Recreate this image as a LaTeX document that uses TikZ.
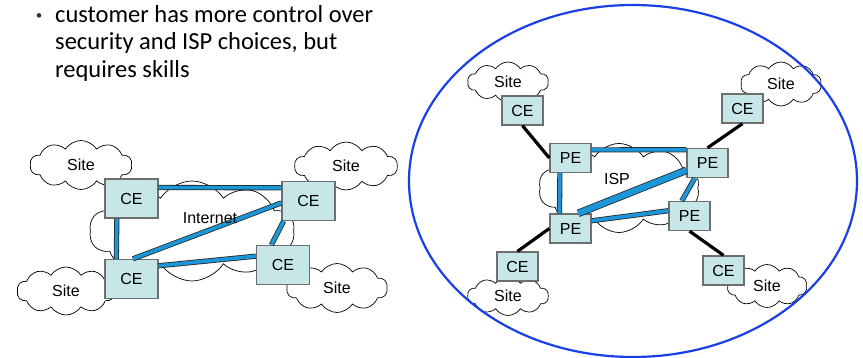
\documentclass[tikz,border=0pt]{standalone}
\usepackage{fontspec}
\setmainfont{Carlito}
\newfontfamily\diagfont{Liberation Sans}
\usetikzlibrary{shapes.symbols}

\definecolor{boxfill}{HTML}{C6E6E8}
\definecolor{boxline}{HTML}{6E6E6E}
\definecolor{linkblue}{HTML}{1B96D8}
\definecolor{ringblue}{HTML}{1A3FE6}

\begin{document}
\begin{tikzpicture}[x=1pt, y=-1pt,
    router/.style={rectangle, draw=boxline, fill=boxfill, line width=1.3pt, inner sep=0pt, minimum width=53pt, minimum height=39pt, font=\diagfont\fontsize{16}{18}\selectfont},
    edge/.style={rectangle, draw=boxline, fill=boxfill, line width=1.3pt, inner sep=0pt, minimum width=41pt, minimum height=29pt, font=\diagfont\fontsize{16}{18}\selectfont},
    site/.style 2 args={cloud, cloud puffs=10, cloud puff arc=115, cloud ignores aspect, draw=black, fill=white, line width=0.7pt, inner sep=0pt, minimum width=#1, minimum height=#2, font=\diagfont\fontsize{16}{18}\selectfont},
    lbl/.style={font=\diagfont\fontsize{16}{18}\selectfont, inner sep=0pt},
    link/.style={draw=black!85, line width=0.8pt, double=linkblue, double distance=#1},
    link/.default=3.6pt,
    access/.style={black, line width=3.2pt}
]
\useasboundingbox (0,0) rectangle (863,358);

% Bullet point
\node[font=\fontsize{13}{13}\selectfont, text=black!80, inner sep=0pt] (dot) at (39,17) {\textbullet};
\node[anchor=north west, inner sep=0pt, align=left, font=\fontsize{24.5}{27.5}\selectfont] (note) at (55,5)
    {customer has more control over\\security and ISP choices, but\\requires skills};

% Left: sites meshed over the Internet
\node[site={205pt}{100pt}] (inet) at (192,231) {};
\node[site={102pt}{49pt}] (siteA) at (81,165) {Site};
\node[site={103pt}{48pt}] (siteB) at (346,166) {Site};
\node[site={98pt}{48pt}] (siteC) at (66,291) {Site};
\node[site={101pt}{49pt}] (siteD) at (337,288) {Site};

\node[router] (ceA) at (131.5,198.5) {CE};
\node[router] (ceB) at (308.5,201) {CE};
\node[router] (ceC) at (131.5,279) {CE};
\node[router] (ceD) at (283,265) {CE};

\draw[link] (ceA.22) -- (ceB.154);
\draw[link] (ceA.234) -- (ceC.127);
\draw[link] (ceC.86) -- (ceB.184);
\draw[link] (ceC.26) -- (ceD.162);
\draw[link] (ceB.219) -- (ceD.120);
\node[lbl] (inetlbl) at (210,218) {Internet};

% Right: sites attached to the ISP core
\node[site={161pt}{89pt}] (isp) at (619,188) {};
\node[site={81pt}{40pt}] (siteE) at (508,82) {Site};
\node[site={81pt}{44pt}] (siteF) at (781,84) {Site};
\node[site={81pt}{39pt}] (siteG) at (508,296) {Site};
\node[site={80pt}{43pt}] (siteH) at (767,286) {Site};

\node[edge] (peA) at (570.5,158) {PE};
\node[edge] (peB) at (707.5,163) {PE};
\node[edge] (peC) at (570.5,228.5) {PE};
\node[edge] (peD) at (689.5,216) {PE};

\node[edge] (ceE) at (522.5,110.5) {CE};
\node[edge] (ceF) at (742.5,108.5) {CE};
\node[edge] (ceG) at (517.5,266.5) {CE};
\node[edge] (ceH) at (723.5,270.5) {CE};

\draw[link] (peA.21) -- (peB.148);
\draw[link] (peA.235) -- (peC.126);
\draw[link=6pt] (peC.63) -- (peB.199);
\draw[link] (peC.20) -- (peD.166);
\draw[link] (peB.230) -- (peD.117);
\node[lbl] (isplbl) at (617,179) {ISP};

\draw[access] (ceE.south) -- (peA.west);
\draw[access] (ceF.south) -- (peB.north);
\draw[access] (peC.west) -- (ceG.north);
\draw[access] (peD.south) -- (ceH.north);

% Provider boundary
\draw[ringblue, line width=2.2pt] (633,181) ellipse [x radius=224, y radius=176];
\end{tikzpicture}
\end{document}
